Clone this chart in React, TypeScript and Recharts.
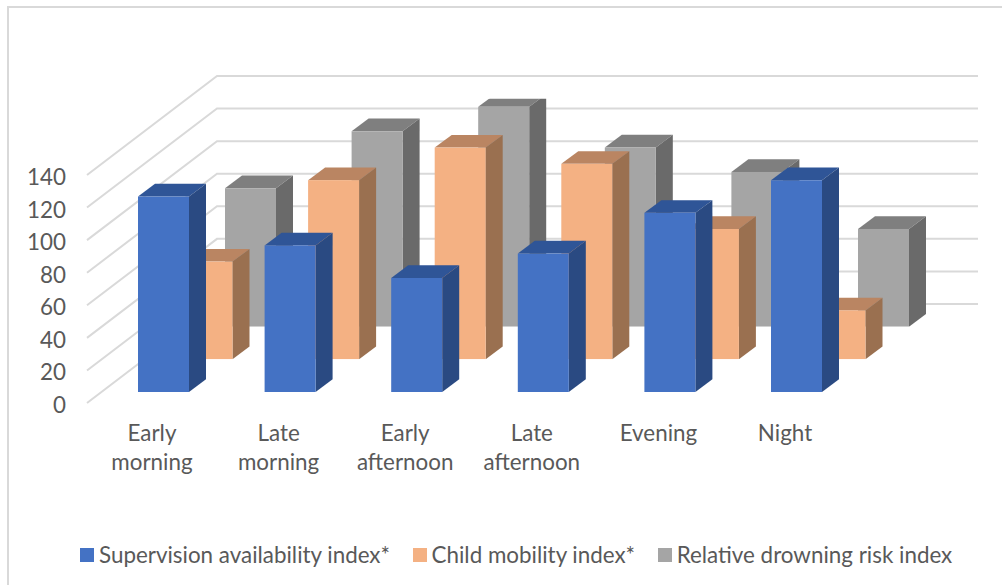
import { Bar, BarChart, CartesianGrid, Legend, XAxis, YAxis } from "recharts";

const categories = ["Early morning", "Late morning", "Early afternoon", "Late afternoon", "Evening", "Night"];
const supervision = [120, 90, 70, 85, 110, 130];
const mobility = [60, 110, 130, 120, 80, 30];
const risk = [85, 120, 135, 110, 95, 60];
const yTicks = [0, 20, 40, 60, 80, 100, 120, 140];

const seriesNames = ["Supervision availability index*", "Child mobility index*", "Relative drowning risk index"];

const WIDTH = 1002;
const HEIGHT = 585;
const PLOT_LEFT = 87;
const PLOT_RIGHT = 978;
const PLOT_TOP = 76;
const PLOT_BOTTOM = 403;
const BAND = 126.6;
const BAR_WIDTH = 51;
const DEPTH_X = 17;
const DEPTH_Y = 12.7;
const TEXT_COLOR = "#595959";
const GRID_COLOR = "#D9D9D9";
const FONT_SIZE = 22.4;

const data = categories.map((name, i) => ({
  name,
  supervision: supervision[i],
  mobility: mobility[i],
  risk: risk[i],
}));

// each row of bars sits on its own pair of axes, shifted back along the depth direction
const xPadding = (firstCenter: number) => {
  const left = firstCenter - BAND / 2 - PLOT_LEFT;
  return { left, right: PLOT_RIGHT - PLOT_LEFT - left - BAND * categories.length };
};

const yPadding = (baseline: number) => ({
  bottom: PLOT_BOTTOM - baseline,
  top: baseline - 228 - PLOT_TOP,
});

const boxShape = (front: string, top: string, side: string) => (props: any) => {
  const { x, y, width, height } = props;
  const right = x + width;
  const bottom = y + height;
  return (
    <g>
      <polygon
        points={`${x},${y} ${x + DEPTH_X},${y - DEPTH_Y} ${right + DEPTH_X},${y - DEPTH_Y} ${right},${y}`}
        fill={top}
      />
      <polygon
        points={`${right},${y} ${right + DEPTH_X},${y - DEPTH_Y} ${right + DEPTH_X},${bottom - DEPTH_Y} ${right},${bottom}`}
        fill={side}
      />
      <rect x={x} y={y} width={width} height={height} fill={front} />
    </g>
  );
};

// back wall line plus the diagonal running forward along the side wall
const wallLine = (props: any) => {
  const { x1, x2, y1, y2, index } = props;
  return (
    <polyline
      key={index}
      points={`${x1 - 130},${y1 + 99} ${x1},${y1} ${x2},${y2}`}
      fill="none"
      stroke={GRID_COLOR}
      strokeWidth={2}
    />
  );
};

const CategoryTick = (props: any) => {
  const { x, y, payload } = props;
  const words = String(payload.value).split(" ");
  return (
    <text x={x} textAnchor="middle" fill={TEXT_COLOR} fontSize={FONT_SIZE} fontFamily="Lato">
      {words.map((word, i) => (
        <tspan key={word} x={x} y={y + i * 29}>
          {word}
        </tspan>
      ))}
    </text>
  );
};

const LegendRow = ({ payload }: any) => {
  const items = [...(payload ?? [])].sort(
    (a: any, b: any) => seriesNames.indexOf(a.value) - seriesNames.indexOf(b.value),
  );
  return (
    <div style={{ display: "flex", alignItems: "center", gap: 22.5, fontFamily: "Lato", fontSize: FONT_SIZE, color: TEXT_COLOR, whiteSpace: "nowrap" }}>
      {items.map((item: any) => (
        <div key={item.value} style={{ display: "flex", alignItems: "center", gap: 5 }}>
          <span style={{ width: 14, height: 14, background: item.color, display: "inline-block" }} />
          {item.value}
        </div>
      ))}
    </div>
  );
};

export default function App() {
  return (
    <div style={{ position: "absolute", left: 0, top: 0, width: WIDTH, height: HEIGHT, background: "#fff", overflow: "hidden" }}>
      <div
        style={{
          position: "absolute",
          left: 7,
          top: 6,
          width: WIDTH,
          height: HEIGHT,
          borderLeft: `2px solid ${GRID_COLOR}`,
          borderTop: `2px solid ${GRID_COLOR}`,
        }}
      />
      <BarChart
        width={WIDTH}
        height={HEIGHT}
        data={data}
        margin={{ top: PLOT_TOP, right: WIDTH - PLOT_RIGHT, bottom: 85, left: PLOT_LEFT - 60 }}
        style={{ position: "absolute", left: 0, top: 0 }}
      >
        <XAxis xAxisId="labels" dataKey="name" axisLine={false} tickLine={false} interval={0} height={HEIGHT - PLOT_BOTTOM - 85} tick={CategoryTick} padding={xPadding(152)} />
        <XAxis xAxisId="front" dataKey="name" hide padding={xPadding(163.3)} />
        <XAxis xAxisId="middle" dataKey="name" hide padding={xPadding(206.8)} />
        <XAxis xAxisId="rear" dataKey="name" hide padding={xPadding(250.3)} />

        <YAxis
          yAxisId="labels"
          domain={[0, 140]}
          allowDataOverflow
          ticks={yTicks}
          width={60}
          axisLine={false}
          tickLine={false}
          tickMargin={15}
          tick={{ fill: TEXT_COLOR, fontSize: FONT_SIZE, fontFamily: "Lato", dy: 2 }}
          padding={{ top: 99, bottom: 0 }}
        />
        <YAxis yAxisId="wall" width={0} domain={[0, 140]} allowDataOverflow ticks={yTicks} hide padding={{ top: 0, bottom: 99 }} />
        <YAxis yAxisId="front" width={0} domain={[0, 140]} allowDataOverflow ticks={yTicks} hide padding={yPadding(392)} />
        <YAxis yAxisId="middle" width={0} domain={[0, 140]} allowDataOverflow ticks={yTicks} hide padding={yPadding(359.3)} />
        <YAxis yAxisId="rear" width={0} domain={[0, 140]} allowDataOverflow ticks={yTicks} hide padding={yPadding(326.7)} />

        <CartesianGrid
          xAxisId="rear"
          yAxisId="wall"
          x={217}
          width={PLOT_RIGHT - 217}
          y={PLOT_TOP}
          height={PLOT_BOTTOM - 99 - PLOT_TOP}
          vertical={false}
          horizontal={wallLine}
          syncWithTicks
        />

        <Bar
          name={seriesNames[2]}
          dataKey="risk"
          xAxisId="rear"
          yAxisId="rear"
          barSize={BAR_WIDTH}
          fill="#A5A5A5"
          shape={boxShape("#A5A5A5", "#7F7F7F", "#6A6A6A")}
          isAnimationActive={false}
        />
        <Bar
          name={seriesNames[1]}
          dataKey="mobility"
          xAxisId="middle"
          yAxisId="middle"
          barSize={BAR_WIDTH}
          fill="#F4B183"
          shape={boxShape("#F4B183", "#BA8562", "#9A7050")}
          isAnimationActive={false}
        />
        <Bar
          name={seriesNames[0]}
          dataKey="supervision"
          xAxisId="front"
          yAxisId="front"
          barSize={BAR_WIDTH}
          fill="#4472C4"
          shape={boxShape("#4472C4", "#2F5597", "#2A4A82")}
          isAnimationActive={false}
        />

        <Legend
          content={LegendRow}
          layout="horizontal"
          verticalAlign="middle"
          wrapperStyle={{ left: 80, top: 541, width: "auto", bottom: "auto" }}
        />
      </BarChart>
    </div>
  );
}
